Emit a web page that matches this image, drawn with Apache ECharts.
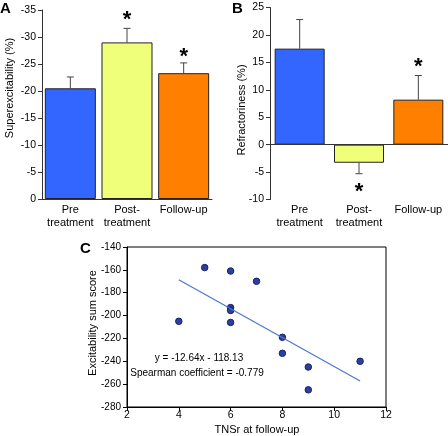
<!DOCTYPE html>
<html><head><meta charset="utf-8">
<script src="https://cdn.jsdelivr.net/npm/echarts@6/dist/echarts.min.js"></script>
<style>html,body{margin:0;padding:0;background:#fff}#c{width:448px;height:436px}</style>
</head><body><div id="c"></div>
<script>
// ---- data ----
const categories = ['Pre\ntreatment', 'Post-\ntreatment', 'Follow-up'];
const barColors = ['#3366ff', '#f0ff7a', '#ff8000'];
const superexcitability = [-20.5, -29.0, -23.3];
const superexcitabilityErr = [-22.6, -31.6, -25.2];
const superexcitabilityStars = [null, -34.0, -27.3];
const refractoriness = [17.5, -3.3, 8.2];
const refractorinessErr = [22.8, -5.3, 12.6];
const refractorinessStars = [null, -7.8, 15.1];
const tnsr = [5, 6, 7, 6, 6, 4, 6, 8, 8, 9, 11, 9];
const excitability = [-158, -161, -170, -193, -195.5, -205, -206, -219, -233, -245, -240, -265];
const trendX = [4, 11];
const trendY = [-168.7, -257.2];
const equationText = 'y = -12.64x - 118.13';
const spearmanText = 'Spearman coefficient = -0.779';

const FONT = 'Liberation Sans, Arial, sans-serif';
const AX = '#333';

function errData(vals, errs) { return vals.map((v, i) => [i, v, errs[i]]); }
function starData(stars) { return stars.map((s, i) => s == null ? null : [i, s]).filter(d => d); }

function errRender(params, api) {
  const b = api.coord([api.value(0), api.value(1)]);
  const e = api.coord([api.value(0), api.value(2)]);
  const s = { stroke: '#444', lineWidth: 1 };
  return { type: 'group', children: [
    { type: 'line', shape: { x1: b[0], y1: b[1], x2: e[0], y2: e[1] }, style: s },
    { type: 'line', shape: { x1: e[0] - 3.5, y1: e[1], x2: e[0] + 3.5, y2: e[1] }, style: s }
  ]};
}
function starRender(params, api) {
  const p = api.coord([api.value(0), api.value(1)]);
  return { type: 'text', x: p[0], y: p[1] + 5, style: { text: '*', font: 'bold 22px ' + FONT, align: 'center', verticalAlign: 'middle', fill: '#000' } };
}

function catAxis(gi) {
  return { type: 'category', gridIndex: gi, data: categories,
    axisLine: { show: gi === 0, onZero: false, lineStyle: { color: AX } },
    axisTick: { show: false },
    axisLabel: { interval: 0, color: '#000', fontFamily: FONT, fontSize: 11, lineHeight: 13, margin: 4 } };
}
function valAxis(gi, min, max, interval, inverse) {
  return { type: 'value', gridIndex: gi, min, max, interval, inverse,
    splitLine: { show: false },
    axisLine: { show: true, lineStyle: { color: AX } },
    axisTick: { show: true, length: 4, lineStyle: { color: AX } },
    axisLabel: { color: '#000', fontFamily: FONT, fontSize: 10.5, margin: 6 } };
}

const chart = echarts.init(document.getElementById('c'), null, { renderer: 'canvas' });
chart.setOption({
  animation: false,
  backgroundColor: '#fff',
  grid: [
    { left: 42, top: 10, width: 170, height: 189 },
    { left: 270, top: 7.5, width: 184, height: 192 },
    { left: 127, top: 247, width: 259, height: 160, show: true, borderColor: '#000', borderWidth: 1 }
  ],
  xAxis: [
    catAxis(0),
    catAxis(1),
    { type: 'value', gridIndex: 2, min: 2, max: 12, interval: 2, splitLine: { show: false },
      axisLine: { onZero: false, lineStyle: { color: '#000' } },
      axisTick: { length: 4, lineStyle: { color: '#000' } },
      axisLabel: { color: '#000', fontFamily: FONT, fontSize: 10.5, margin: 3 } }
  ],
  yAxis: [
    valAxis(0, -35, 0, 5, true),
    valAxis(1, -10, 25, 5, false),
    { type: 'value', gridIndex: 2, min: -280, max: -140, interval: 20, splitLine: { show: false },
      axisLine: { onZero: false, lineStyle: { color: '#000' } },
      axisTick: { length: 4, lineStyle: { color: '#000' } },
      axisLabel: { color: '#000', fontFamily: FONT, fontSize: 10, margin: 6 } }
  ],
  series: [
    { type: 'bar', xAxisIndex: 0, yAxisIndex: 0, barWidth: 51,
      data: superexcitability.map((v, i) => ({ value: v, itemStyle: { color: barColors[i] } })),
      itemStyle: { borderColor: '#222', borderWidth: 1 } },
    { type: 'custom', xAxisIndex: 0, yAxisIndex: 0, renderItem: errRender, data: errData(superexcitability, superexcitabilityErr), z: 1 },
    { type: 'custom', xAxisIndex: 0, yAxisIndex: 0, renderItem: starRender, data: starData(superexcitabilityStars) },
    { type: 'bar', xAxisIndex: 1, yAxisIndex: 1, barWidth: 50,
      data: refractoriness.map((v, i) => ({ value: v, itemStyle: { color: barColors[i] } })),
      itemStyle: { borderColor: '#222', borderWidth: 1 },
      markLine: { silent: true, symbol: 'none', label: { show: false }, lineStyle: { color: AX, type: 'solid', width: 1 }, data: [{ yAxis: 0 }] } },
    { type: 'custom', xAxisIndex: 1, yAxisIndex: 1, renderItem: errRender, data: errData(refractoriness, refractorinessErr), z: 1 },
    { type: 'custom', xAxisIndex: 1, yAxisIndex: 1, renderItem: starRender, data: starData(refractorinessStars) },
    { type: 'line', xAxisIndex: 2, yAxisIndex: 2, data: trendX.map((x, i) => [x, trendY[i]]),
      symbol: 'none', lineStyle: { color: '#4a78cc', width: 1.2 } },
    { type: 'scatter', xAxisIndex: 2, yAxisIndex: 2, data: tnsr.map((x, i) => [x, excitability[i]]),
      symbolSize: 6.5, itemStyle: { color: '#2b3f9e', borderColor: '#18226a', borderWidth: 1, opacity: 1 } }
  ],
  graphic: [
    { type: 'text', left: 0, top: 1, style: { text: 'A', font: 'bold 15px ' + FONT, fill: '#000' } },
    { type: 'text', left: 232, top: 1, style: { text: 'B', font: 'bold 15px ' + FONT, fill: '#000' } },
    { type: 'text', left: 80, top: 241, style: { text: 'C', font: 'bold 15px ' + FONT, fill: '#000' } },
    { type: 'text', x: 10, y: 88, rotation: Math.PI / 2, style: { text: 'Superexcitability (%)', font: '11px ' + FONT, fill: '#000', align: 'center', verticalAlign: 'middle' } },
    { type: 'text', x: 242, y: 110, rotation: Math.PI / 2, style: { text: 'Refractoriness (%)', font: '11px ' + FONT, fill: '#000', align: 'center', verticalAlign: 'middle' } },
    { type: 'text', x: 93, y: 323, rotation: Math.PI / 2, style: { text: 'Excitability sum score', font: '11px ' + FONT, fill: '#000', align: 'center', verticalAlign: 'middle' } },
    { type: 'text', x: 257, y: 430, style: { text: 'TNSr at follow-up', font: '11px ' + FONT, fill: '#000', align: 'center', verticalAlign: 'middle' } },
    { type: 'text', x: 199, y: 358, style: { text: equationText, font: '10px ' + FONT, fill: '#000', align: 'center', verticalAlign: 'middle' } },
    { type: 'text', x: 197, y: 373, style: { text: spearmanText, font: '10px ' + FONT, fill: '#000', align: 'center', verticalAlign: 'middle' } }
  ]
});
</script></body></html>
